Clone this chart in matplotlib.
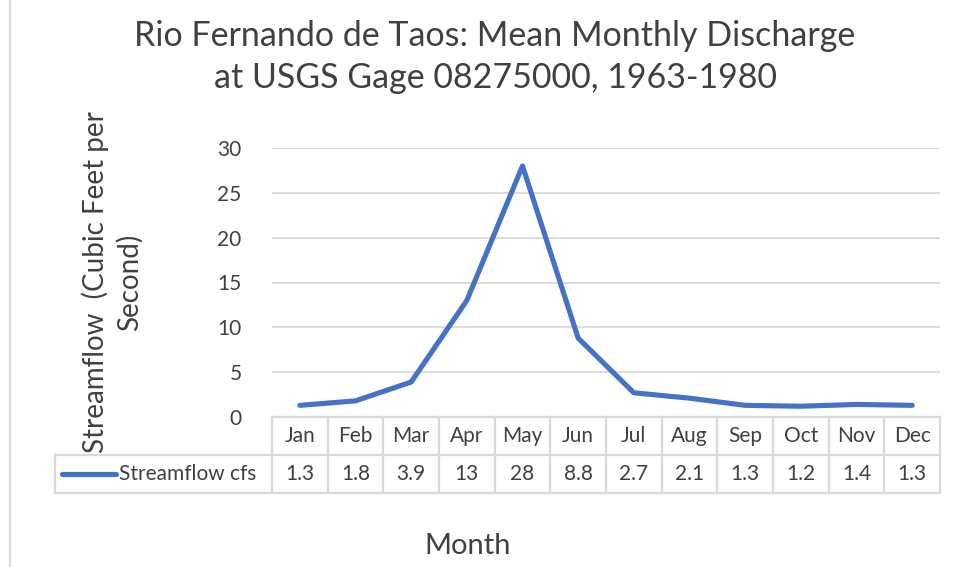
import matplotlib.pyplot as plt
from matplotlib.lines import Line2D
from matplotlib.transforms import blended_transform_factory

months = ['Jan', 'Feb', 'Mar', 'Apr', 'May', 'Jun', 'Jul', 'Aug', 'Sep', 'Oct', 'Nov', 'Dec']
flow = [1.3, 1.8, 3.9, 13, 28, 8.8, 2.7, 2.1, 1.3, 1.2, 1.4, 1.3]
flow_labels = ['1.3', '1.8', '3.9', '13', '28', '8.8', '2.7', '2.1', '1.3', '1.2', '1.4', '1.3']
series_name = 'Streamflow cfs'
yticks = [0, 5, 10, 15, 20, 25, 30]

plt.rcParams['font.family'] = ['Lato', 'DejaVu Sans']
text_color = '#404040'
grid_color = '#d9d9d9'
line_color = '#4472c4'

W, H = 956, 567
fig = plt.figure(figsize=(W / 100, H / 100), dpi=100)
ax = fig.add_axes([272 / W, 1 - 417 / H, 668 / W, 269 / H])

x = list(range(len(months)))
ax.plot(x, flow, color=line_color, linewidth=3.7, solid_capstyle='round', solid_joinstyle='round', zorder=3)
ax.set_xlim(-0.5, len(months) - 0.5)
ax.set_ylim(0, 30)
ax.set_yticks(yticks)
ax.set_xticks([])
ax.tick_params(axis='y', length=0, labelsize=15, labelcolor=text_color, pad=22)
for s in ax.spines.values():
    s.set_visible(False)
ax.grid(axis='y', color=grid_color, linewidth=1.3)
ax.set_axisbelow(True)

# data table under the plot
tr = blended_transform_factory(ax.transData, ax.transAxes)
row1 = -38 / 269
row2 = -76 / 269
legend_left = (55 - 272) / 668
lw = 1.6
ax.plot([-0.5, len(months) - 0.5], [0, 0], transform=tr, color=grid_color, lw=lw, clip_on=False)
for yy in [row1, row2]:
    ax.plot([legend_left, 1], [yy, yy], transform=ax.transAxes, color=grid_color, lw=lw, clip_on=False)
ax.plot([legend_left, legend_left], [row1, row2], transform=ax.transAxes, color=grid_color, lw=lw, clip_on=False)
for i in range(len(months) + 1):
    ax.plot([i - 0.5, i - 0.5], [0, row2], transform=tr, color=grid_color, lw=lw, clip_on=False)
for i, m in enumerate(months):
    ax.text(i, row1 / 2, m, transform=tr, ha='center', va='center', fontsize=15, color=text_color)
    ax.text(i, (row1 + row2) / 2, flow_labels[i], transform=tr, ha='center', va='center', fontsize=15, color=text_color)

# legend key inside table
key_x0 = (62 - 272) / 668
key_x1 = (116 - 272) / 668
ax.plot([key_x0, key_x1], [(row1 + row2) / 2] * 2, transform=ax.transAxes, color=line_color,
        lw=3.7, solid_capstyle='round', clip_on=False)
ax.text((119 - 272) / 668, (row1 + row2) / 2, series_name, transform=ax.transAxes,
        ha='left', va='center', fontsize=15, color=text_color)

fig.text(468 / W, 1 - 546 / H, 'Month', ha='center', va='center', fontsize=21, color=text_color)
fig.text(112 / W, 1 - 282 / H, 'Streamflow  (Cubic Feet per\nSecond)', rotation=90,
         ha='center', va='center', fontsize=20, color=text_color, linespacing=1.3)
fig.text(495 / W, 1 - 57 / H, 'Rio Fernando de Taos: Mean Monthly Discharge\nat USGS Gage 08275000, 1963-1980',
         ha='center', va='center', fontsize=24.5, color=text_color, linespacing=1.35)

fig.add_artist(Line2D([10 / W, 10 / W], [0, 1], color=grid_color, lw=1.5))

fig.savefig('out.png', dpi=100, facecolor='white')
